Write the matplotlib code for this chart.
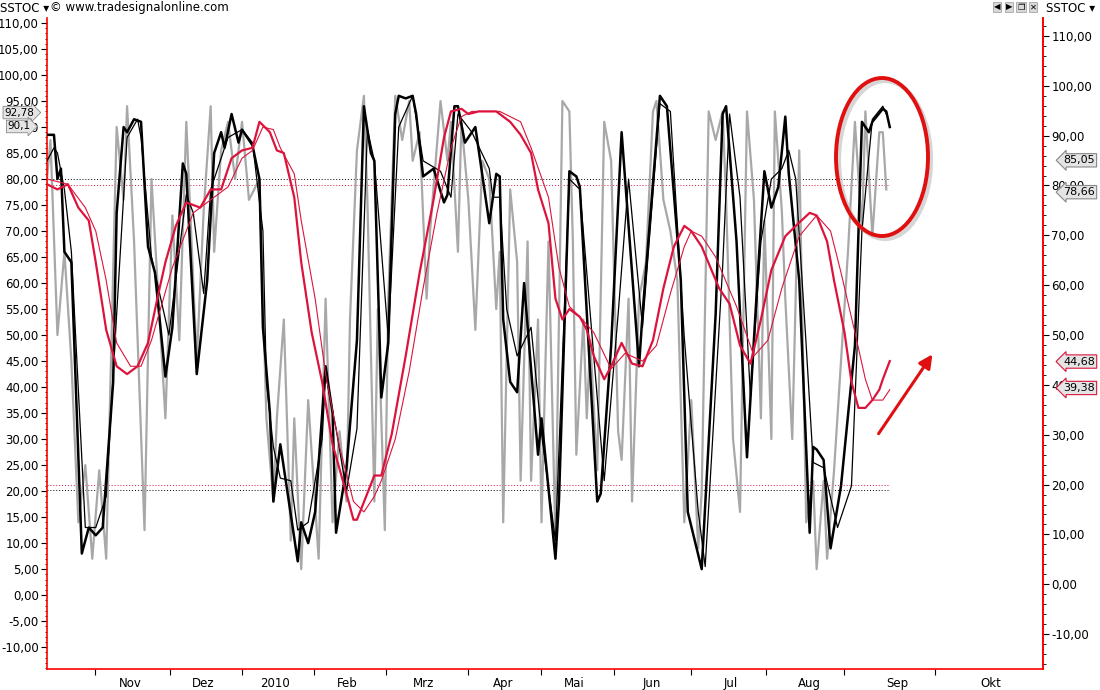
import matplotlib
matplotlib.use("Agg")
import matplotlib.pyplot as plt
from matplotlib.patches import Ellipse, FancyArrowPatch
import numpy as np

# ---------------- data (trading-day index, stochastic value) ----------------
black_thick_d = [0,2,3,4,5,7,10,12,14,16,19,20,22,23,25,27,29,31,34,36,39,40,43,46,48,50,51,53,55,56,59,61,62,64,65,67,69,72,73,75,77,80,82,83,86,89,91,93,94,96,98,100,101,103,105,106,108,111,114,115,117,118,120,123,127,129,130,131,133,135,137,141,142,146,147,150,152,153,158,159,162,165,170,171,176,178,182,184,188,192,194,195,198,201,204,206,208,210,212,213,216,219,220,221,223,225,228,232,234,236,237,240,241,242]
black_thick_v = [88.5,88.5,80,82,66,64,8,13,11.5,13,41,73.5,90,89,91.5,91,67,62,42,51.5,83,81,42.5,60.5,85,89,86,92.5,87,89.5,86.5,80,51.5,35,18,29,20,6.5,14,10,16,44,35,12,24.5,49,94,85,83.5,38,48.5,92.5,96,95.5,96,92.5,80.5,82,75.5,77,94,94,87,90,71.5,81,80.5,53,41,39,60,27,34,7,18,81.5,80.5,78.5,18,19.5,48,89,44,54,96,94,60.5,16,5,54,92.5,94,68,26.5,60.5,81.5,74.5,78.5,92,81,60.5,12,28.5,28,26,9,21,48,91,89,91,93.5,93,90]

black_thin_d = [0,2,3,5,7,11,14,17,20,23,26,27,30,35,40,42,45,47,52,56,59,62,63,65,67,70,72,75,79,80,83,86,89,92,94,98,101,105,108,113,116,118,122,127,128,130,132,135,139,142,146,150,153,160,164,167,171,176,179,183,187,189,194,196,199,202,205,208,211,213,215,218,220,223,227,231,234,237,240,241]
black_thin_v = [83.5,86,85,78,66,13,13,19,54,88,91.5,88,65,50,77,73.5,58,78,88,89.5,87,70,41,28.5,22.5,22,12.5,14,30,42.5,32,20,32,89.5,83.5,49.5,90,96,83.5,81.5,76.5,92.5,89,82,76.5,76.5,55,46,51.5,31,10.5,80,78,22,54,80,51.5,94.5,93,49.5,16,5.5,63,92.5,76.5,38,68,80,82,85.5,80,48,25.5,24.5,13,21,70,91.5,94,92.5]

gray_d = [0,1,3,5,7,9,11,13,15,17,20,22,23,25,28,30,32,34,36,38,40,43,45,47,48,50,52,54,56,58,61,63,65,66,68,70,71,73,75,78,80,82,84,86,87,89,91,92,94,95,97,98,100,102,104,105,107,109,110,113,115,116,118,119,121,123,125,127,129,130,131,133,135,136,138,139,141,142,144,146,148,150,151,152,154,155,156,158,160,162,164,165,167,168,170,172,174,175,177,179,181,183,185,187,188,190,192,194,195,197,199,201,203,205,206,208,209,211,212,214,216,218,220,221,223,224,226,228,230,232,234,235,237,239,240,241]
gray_v = [80,87.5,50,66,45,14,25,7,24,7,90,76,94,68,12.5,80,57,34,73,49,91,45,74,94,66,85.5,91,80,91,76,80,34,18,34,53,10.5,34,5,37.5,7,57,14,31.5,18,53,85.5,96,76,18,55,12.5,57,96,87.5,95,83.5,89,57,70,95,83.5,91,66,91,76,51,83.5,80,55,66,14,78,64,22,68,22,53,14,68,10.5,95,93,68,27,53,34,49,24,91,83.5,31.5,26,57,18,57,64,93,95,76,70,60.5,14,37.5,9,20,93,87.5,93,76,30,16,93,76,34,72,30,93,74,57,30,85.5,14,22,5,22,7,24,45,66,91,70,93,69,89,89,78]

red_thick_d = [0,3,6,9,12,14,17,20,23,26,29,32,34,37,40,44,47,50,53,56,59,61,64,66,68,71,73,76,79,82,86,88,89,94,96,99,103,107,111,114,116,119,121,124,127,129,133,136,139,141,144,146,148,150,153,155,157,160,162,165,168,171,174,177,180,183,185,188,193,196,199,202,205,208,212,215,219,221,224,226,229,231,233,235,237,239,240,242]
red_thick_v = [79,78,79,74.5,72,64,51,44,42.5,44,48.5,58,64,71,75.5,74.5,78,78,84,85.5,86,91,89,85.5,85,76.5,64,50.5,41,29,19.5,14.5,14.5,23,23,31,46,62,76,88,93,93.5,92.5,93,93,93,91,88.5,85,78,71.5,57,53,55,53.5,51,46,41.5,44,48.5,44.5,44,49,59,67,71,70,67,59,56,48,44.5,53,62.5,69,71,73.5,73,68,60.5,50.5,41,36,36,37.5,39.5,41.5,45]

red_thin_d = [0,6,11,14,17,20,24,27,30,36,42,46,52,56,59,62,65,67,71,73,77,80,84,88,91,94,96,100,104,108,112,116,119,122,127,130,136,139,144,147,150,153,157,162,166,171,175,179,183,185,188,192,198,203,207,211,216,221,225,228,232,235,237,240,242]
red_thin_v = [80,79,74.5,70,60.5,48.5,44,44,49,63,73.5,75.5,78.5,84,85.5,90,89.5,86,81,72,57,42.5,28.5,18,16,19,22,30,43,59,73.5,86,92,93,93,93,91,86,76.5,63,55.5,53.5,50.5,43.5,46.5,45,48,58,67,70,69,65,55.5,46,49,59,69,73,70,62,50.5,41.5,37.5,37.5,39.5]

month_tick_days = [13.8, 35.3, 56, 76.6, 97.3, 121, 141.8, 162.7, 184.8, 206.6, 229, 254.9]
month_labels = ["Nov", "Dez", "2010", "Feb", "Mrz", "Apr", "Mai", "Jun", "Jul", "Aug", "Sep", "Okt"]
month_label_days = [23.8, 44.8, 65.4, 86.1, 108.2, 130.9, 151.5, 173.6, 196.3, 219, 244.2, 271]

left_ticks = list(range(-10, 111, 5))
right_ticks = list(range(-10, 111, 10))
upper_levels = (80, 78.8)
lower_levels = (20.2, 21.2)
left_marks = ["92,78", "90,1"]
left_mark_vals = [92.78, 90.1]
right_marks = ["85,05", "78,66", "44,68", "39,38"]
right_mark_vals = [85.05, 78.66, 44.68, 39.38]

RED = "#dc143c"
GRAY = "#a8a8a8"

fig = plt.figure(figsize=(11, 6.9), dpi=100)
ax = fig.add_axes([47/1100, 1-669/690, 996/1100, 651/690])
ax.set_xlim(0, 286)
ax.set_ylim(-14.2, 110.96)

ax.plot(gray_d, gray_v, color=GRAY, lw=1.6, zorder=2)
ax.plot(black_thin_d, black_thin_v, color="black", lw=0.9, zorder=3)
ax.plot(black_thick_d, black_thick_v, color="black", lw=1.8, zorder=4)
ax.plot(red_thin_d, red_thin_v, color=RED, lw=0.8, zorder=5)
ax.plot(red_thick_d, red_thick_v, color=RED, lw=1.6, zorder=6)

ax.hlines([upper_levels[0], lower_levels[0]], 0, 242, colors="black", linestyles=(0, (1, 2)), lw=0.7, zorder=1)
ax.hlines([upper_levels[1], lower_levels[1]], 0, 242, colors=RED, linestyles=(0, (1, 2)), lw=0.7, zorder=1)

for s in ["left", "bottom", "right"]:
    ax.spines[s].set_color("red")
    ax.spines[s].set_linewidth(1.2)
ax.spines["top"].set_visible(False)

ax.set_yticks(left_ticks)
ax.set_yticklabels([f"{t:.2f}".replace(".", ",") for t in left_ticks], fontsize=8.5)
ax.set_yticks(np.arange(-14, 111, 1), minor=True)
ax.tick_params(axis="y", which="major", length=4, direction="out", color="black", pad=2)
ax.tick_params(axis="y", which="minor", length=1.5, direction="out", color="black")

ax.set_xticks(month_tick_days)
ax.set_xticklabels([])
ax.set_xticks(month_label_days, minor=True)
ax.set_xticklabels(month_labels, minor=True, fontsize=8.5)
ax.tick_params(axis="x", which="major", length=4, direction="out", color="black")
ax.tick_params(axis="x", which="minor", length=0, pad=6)

ax2 = ax.twinx()
ax2.set_ylim(-17.0, 113.6)
ax2.spines["right"].set_color("red")
ax2.spines["right"].set_linewidth(1.2)
ax2.spines["top"].set_visible(False)
ax2.spines["left"].set_visible(False)
ax2.spines["bottom"].set_visible(False)
ax2.set_yticks(right_ticks)
ax2.set_yticklabels([f"{t:.2f}".replace(".", ",") for t in right_ticks], fontsize=8.5)
ax2.set_yticks(np.arange(-16, 113, 2), minor=True)
ax2.tick_params(axis="y", which="major", length=4, direction="out", pad=2)
ax2.tick_params(axis="y", which="minor", length=2, direction="out")

# value marks
for txt, v in zip(left_marks, left_mark_vals):
    ax.annotate(txt, xy=(0, v), xycoords=("axes fraction", "data"), xytext=(-20, 0),
                textcoords="offset points", ha="center", va="center", fontsize=7.5,
                bbox=dict(boxstyle="rarrow,pad=0.12", fc="#e4e4e4", ec="#888888", lw=0.6),
                annotation_clip=False, zorder=10)
rm_edge = ["#888888", "#888888", RED, RED]
for txt, v, ec in zip(right_marks, right_mark_vals, rm_edge):
    ax2.annotate(txt, xy=(1, v), xycoords=("axes fraction", "data"), xytext=(26, 0),
                 textcoords="offset points", ha="center", va="center", fontsize=8,
                 bbox=dict(boxstyle="larrow,pad=0.15", fc="#e4e4e4", ec=ec, lw=0.8),
                 annotation_clip=False, zorder=10)

# headers
fig.text(0.0, 1-8/690, "SSTOC ▾", fontsize=8.5, va="center", ha="left")
fig.text(50/1100, 1-8/690, "© www.tradesignalonline.com", fontsize=8.5, va="center", ha="left")
fig.text(1046/1100, 1-8/690, "SSTOC ▾", fontsize=8.5, va="center", ha="left")
for i, sym in enumerate(["◀", "▶", "❐", "✕"]):
    fig.text((997 + i*12)/1100, 1-7/690, sym, fontsize=6, va="center", ha="center",
             bbox=dict(boxstyle="square,pad=0.1", fc="#d8d8d8", ec="#999999", lw=0.5))

# hand-drawn style marks
sh = Ellipse((885/1100, 1-160/690), 92/1100, 158/690, transform=fig.transFigure,
             fill=False, ec="#bbbbbb", lw=3, alpha=0.6)
fig.add_artist(sh)
el = Ellipse((882/1100, 1-157/690), 92/1100, 158/690, transform=fig.transFigure,
             fill=False, ec="#e01010", lw=2.8)
fig.add_artist(el)
arr = FancyArrowPatch((877/1100, 1-436/690), (934/1100, 1-352/690), transform=fig.transFigure,
                      arrowstyle="-|>,head_length=8,head_width=4", color="#e01010", lw=2.2)
fig.add_artist(arr)

fig.savefig("out.png", dpi=100, facecolor="white")
